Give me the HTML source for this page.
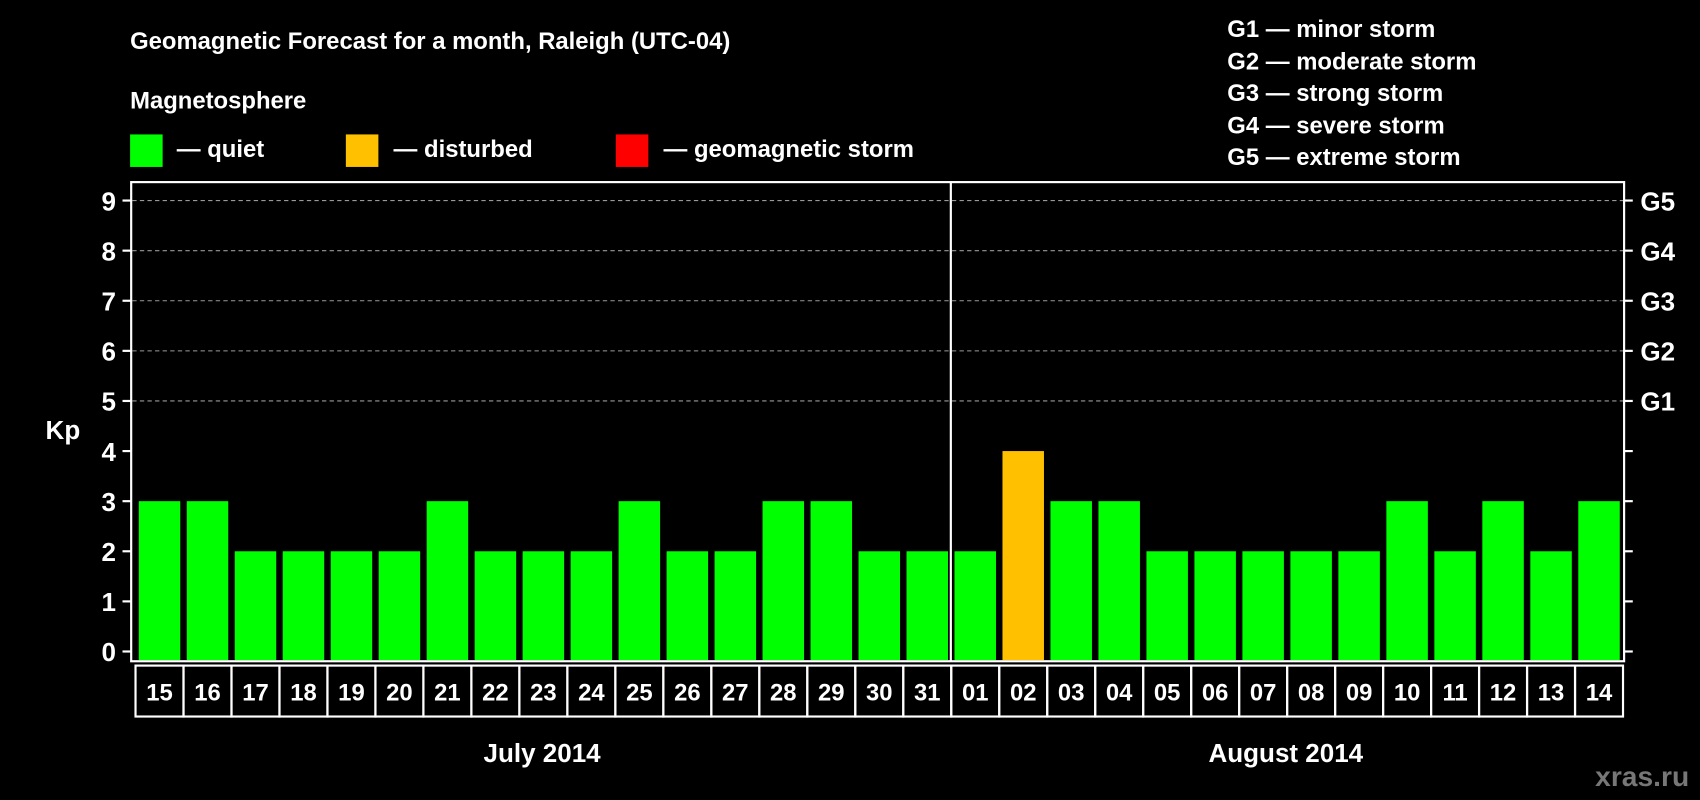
<!DOCTYPE html>
<html><head><meta charset="utf-8"><style>
html,body{margin:0;padding:0;background:#000;}
svg{display:block;font-family:"Liberation Sans",Arial,sans-serif;font-weight:bold;}
</style></head><body>
<svg id="chart" width="1700" height="800" viewBox="0 0 1568 738" preserveAspectRatio="none" xmlns="http://www.w3.org/2000/svg">
<rect width="1568" height="738" fill="#000"/>
<text x="120" y="45" fill="#fff" font-size="22">Geomagnetic Forecast for a month, Raleigh (UTC-04)</text>
<text x="120" y="100" fill="#fff" font-size="22">Magnetosphere</text>
<g><rect x="120" y="124" width="30" height="30" fill="#00ff00"/><text x="163" y="145" fill="#fff" font-size="22">— quiet</text></g>
<g><rect x="319" y="124" width="30" height="30" fill="#ffc000"/><text x="363" y="145" fill="#fff" font-size="22">— disturbed</text></g>
<g><rect x="568" y="124" width="30" height="30" fill="#ff0000"/><text x="612" y="145" fill="#fff" font-size="22">— geomagnetic storm</text></g>
<g fill="#fff" font-size="22">
<text x="1132" y="34">G1 — minor storm</text>
<text x="1132" y="64">G2 — moderate storm</text>
<text x="1132" y="93">G3 — strong storm</text>
<text x="1132" y="123">G4 — severe storm</text>
<text x="1132" y="152">G5 — extreme storm</text>
</g>
<g id="grid"></g>
<g id="bars"></g>
<rect x="121" y="168" width="1377" height="442" fill="none" stroke="#fff" stroke-width="2"/>
<line x1="877" y1="168" x2="877" y2="610" stroke="#fff" stroke-width="2"/>
<g id="yaxis"></g>
<g id="xaxis"></g>
<text x="58" y="405" fill="#fff" font-size="24" text-anchor="middle">Kp</text>
<text x="500" y="703" fill="#fff" font-size="24" text-anchor="middle">July 2014</text>
<text x="1186" y="703" fill="#fff" font-size="24" text-anchor="middle">August 2014</text>
<text x="1558" y="725" fill="#777" font-size="26" text-anchor="end">xras.ru</text>
</svg>
<script>
const days = ["15","16","17","18","19","20","21","22","23","24","25","26","27","28","29","30","31","01","02","03","04","05","06","07","08","09","10","11","12","13","14"];
const kpValues = [3,3,2,2,2,2,3,2,2,2,3,2,2,3,3,2,2,2,4,3,3,2,2,2,2,2,3,2,3,2,3];
const yTicks = [0,1,2,3,4,5,6,7,8,9];
const gLabels = ["","","","","","G1","G2","G3","G4","G5"];
const NS="http://www.w3.org/2000/svg";
const y0=601, unit=(601-185)/9, x0=125, step=(1497-125)/31;
function yScale(v){return y0-v*unit;}
function xScale(i){return x0+i*step;}
function mk(tag,attrs,parent){const e=document.createElementNS(NS,tag);for(const k in attrs)e.setAttribute(k,attrs[k]);parent.appendChild(e);return e;}
const grid=document.getElementById('grid'),bars=document.getElementById('bars'),ya=document.getElementById('yaxis'),xa=document.getElementById('xaxis');
yTicks.forEach((t,i)=>{
  const y=yScale(t);
  if(t>=5){const g=mk('line',{x1:122,x2:1497,y1:y,y2:y,stroke:'#999','stroke-dasharray':'4,3','stroke-width':1},grid);
    
    }
  const tl=mk('line',{x1:113,x2:121,y1:y,y2:y,stroke:'#fff','stroke-width':2},ya);
  
  
  const tr=mk('line',{x1:1498,x2:1506,y1:y,y2:y,stroke:'#fff','stroke-width':2},ya);
  
  
  const lb=mk('text',{x:107,y:y+9,fill:'#fff','font-size':24,'text-anchor':'end'},ya);lb.textContent=t;
  
  
  if(gLabels[i]){const g=mk('text',{x:1513,y:y+9,fill:'#fff','font-size':24},ya);g.textContent=gLabels[i];
    
    }
});
kpValues.forEach((v,i)=>{
  const col=v>=5?'#ff0000':(v>=4?'#ffc000':'#00ff00');
  const b=mk('rect',{x:xScale(i)+3,y:yScale(v),width:step-6,height:609-yScale(v),fill:col},bars);
  
  
  const c=mk('rect',{x:xScale(i),y:614,width:step,height:47,fill:'none',stroke:'#fff','stroke-width':2},xa);
  
  
  const t=mk('text',{x:xScale(i)+step/2,y:646,fill:'#fff','font-size':22,'text-anchor':'middle'},xa);t.textContent=days[i];
  
  
});
</script>
</body></html>
